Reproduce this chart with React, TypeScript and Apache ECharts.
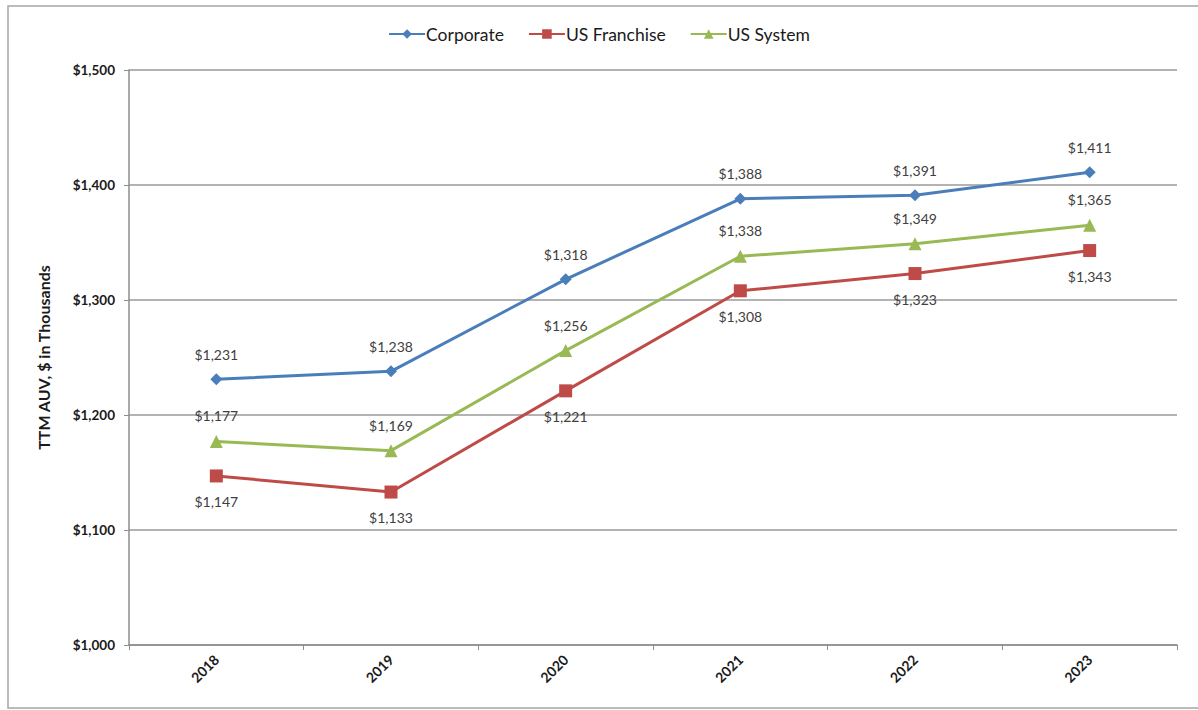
import React, { useEffect, useRef } from "react";
import * as echarts from "echarts";

const years = ["2018", "2019", "2020", "2021", "2022", "2023"];
const corporate = [1231, 1238, 1318, 1388, 1391, 1411];
const usFranchise = [1147, 1133, 1221, 1308, 1323, 1343];
const usSystem = [1177, 1169, 1256, 1338, 1349, 1365];
const yTicks = [1000, 1100, 1200, 1300, 1400, 1500];

const FONT = "Lato, 'Noto Sans', sans-serif";
const fmt = (v: number) => "$" + v.toLocaleString("en-US");

export default function App() {
  const ref = useRef<HTMLDivElement>(null);
  useEffect(() => {
    if (!ref.current) return;
    const chart = echarts.init(ref.current, undefined, { renderer: "svg" });
    const labelStyle = (pos: string) => ({
      show: true,
      position: pos,
      distance: 12,
      color: "#404040",
      fontSize: 14,
      fontFamily: FONT,
      formatter: (p: any) => fmt(p.value),
    });
    chart.setOption({
      animation: false,
      backgroundColor: "#fff",
      textStyle: { fontFamily: FONT },
      graphic: [
        {
          type: "rect",
          shape: { x: 8, y: 6, width: 1200, height: 702 },
          style: { fill: "none", stroke: "#a6a6a6", lineWidth: 1.5 },
          silent: true,
        },
      ],
      legend: {
        top: 20,
        left: "center",
        itemWidth: 36,
        itemHeight: 12,
        itemGap: 24,
        textStyle: { fontSize: 17.5, color: "#1a1a1a", fontFamily: FONT, padding: [0, 0, 0, -4] },
        data: ["Corporate", "US Franchise", "US System"],
      },
      grid: { left: 129, right: 21, top: 70, bottom: 65 },
      xAxis: {
        type: "category",
        data: years,
        boundaryGap: true,
        axisLine: { lineStyle: { color: "#8c8c8c", width: 1.5 } },
        axisTick: { show: true, alignWithLabel: false, length: 5, lineStyle: { color: "#8c8c8c" } },
        axisLabel: {
          rotate: 45,
          margin: 12,
          fontWeight: "bold",
          fontSize: 14,
          color: "#1a1a1a",
          fontFamily: FONT,
        },
      },
      yAxis: {
        type: "value",
        min: yTicks[0],
        max: yTicks[yTicks.length - 1],
        interval: 100,
        name: "TTM AUV, $ in Thousands",
        nameLocation: "middle",
        nameGap: 78,
        nameRotate: 90,
        nameTextStyle: { fontSize: 16, fontWeight: "bold", color: "#1a1a1a", fontFamily: FONT },
        axisLine: { show: true, lineStyle: { color: "#8c8c8c", width: 1.5 } },
        axisTick: { show: true, length: 5, lineStyle: { color: "#8c8c8c" } },
        axisLabel: {
          margin: 14,
          fontWeight: "bold",
          fontSize: 13.5,
          color: "#1a1a1a",
          fontFamily: FONT,
          formatter: (v: number) => fmt(v),
        },
        splitLine: { show: true, lineStyle: { color: "#9a9a9a", width: 1.5 } },
      },
      series: [
        {
          name: "Corporate",
          type: "line",
          data: corporate,
          color: "#4a7ebb",
          lineStyle: { width: 3 },
          symbol: "diamond",
          symbolSize: 12,
          label: labelStyle("top"),
        },
        {
          name: "US Franchise",
          type: "line",
          data: usFranchise,
          color: "#be4b48",
          lineStyle: { width: 3 },
          symbol: "rect",
          symbolSize: 13,
          label: labelStyle("bottom"),
        },
        {
          name: "US System",
          type: "line",
          data: usSystem,
          color: "#98b954",
          lineStyle: { width: 3 },
          symbol: "triangle",
          symbolSize: 13,
          label: labelStyle("top"),
        },
      ],
    });
    return () => chart.dispose();
  }, []);
  return (
    <div
      ref={ref}
      style={{ position: "fixed", left: 0, top: 0, width: 1198, height: 710 }}
    />
  );
}
